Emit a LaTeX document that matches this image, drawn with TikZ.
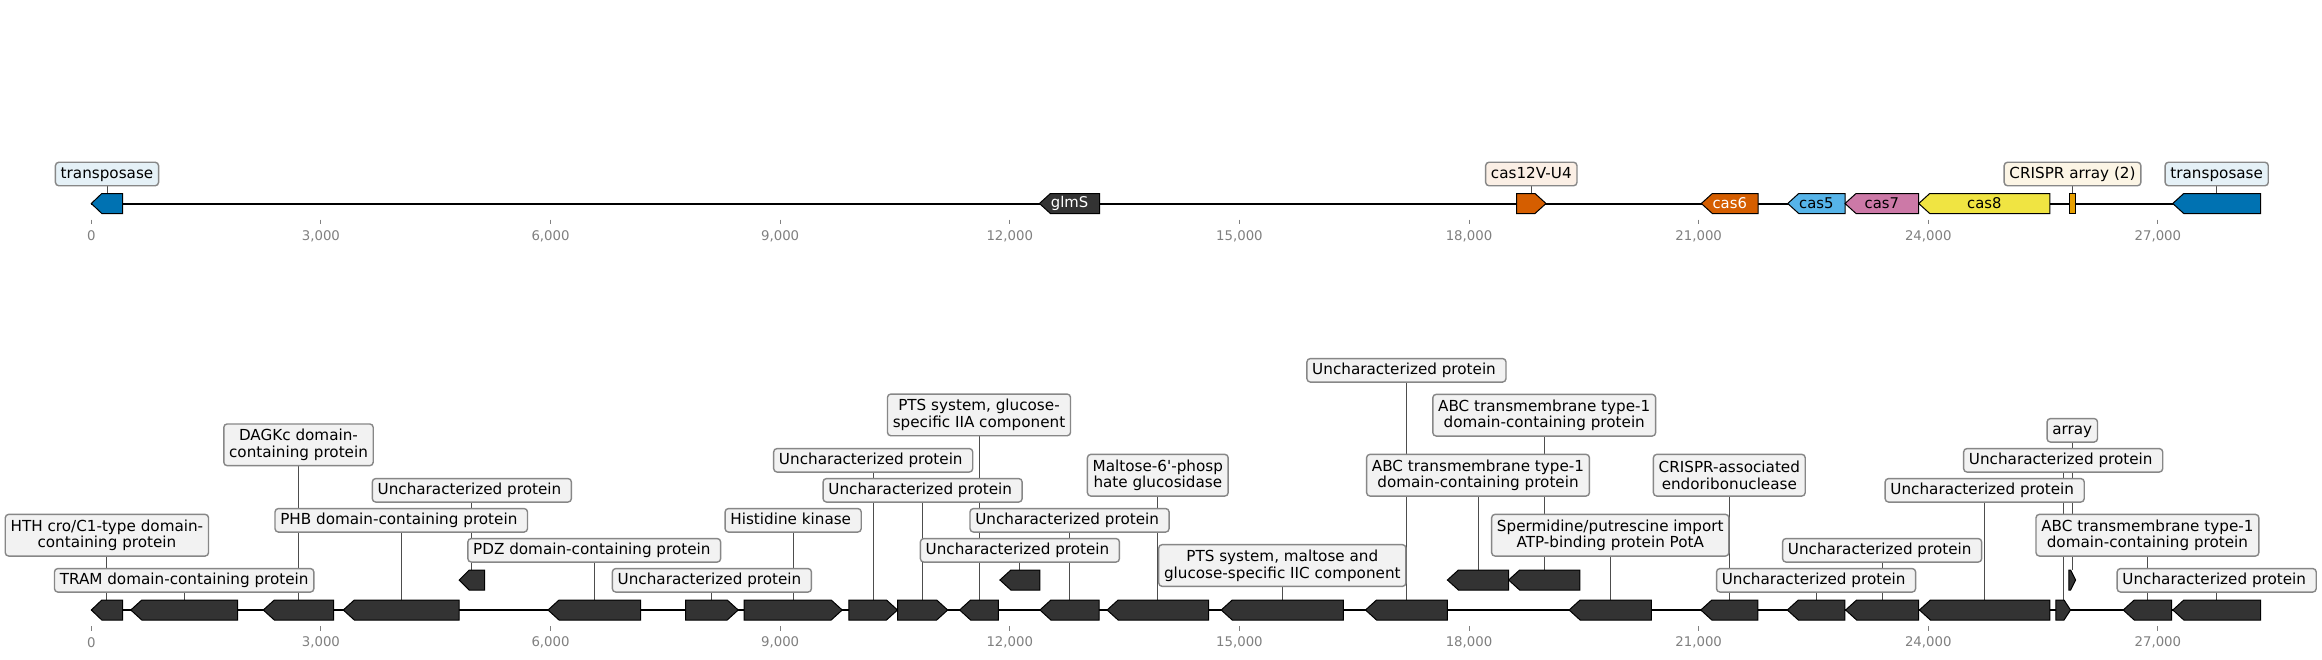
\documentclass[tikz,border=0pt]{standalone}
\usepackage{fontspec}
\newfontfamily\dv{DejaVu Sans}
\definecolor{tpblue}{HTML}{0072B2}
\definecolor{verm}{HTML}{D55E00}
\definecolor{sky}{HTML}{56B4E9}
\definecolor{rpurp}{HTML}{CC79A7}
\definecolor{yel}{HTML}{F0E442}
\definecolor{orng}{HTML}{E69F00}
\definecolor{dark}{HTML}{333333}
\definecolor{labfill}{HTML}{F2F2F2}
\definecolor{boxgray}{HTML}{878787}
\definecolor{conngray}{HTML}{4D4D4D}
\definecolor{tickgray}{HTML}{808080}
\newcommand\lfont{\dv\fontsize{7.6pt}{8.35pt}\selectfont}
\newcommand\tsp{\kern0.318em}
\pgfdeclarelayer{back}
\pgfsetlayers{back,main}
% reverse gene: name, x1 (tip), x2, yc, head, fill
\newcommand\grev[6]{%
  \draw[gene,fill=#6] (#2,#4) -- (#2+#5,#4-10) -- (#3,#4-10) -- (#3,#4+10) -- (#2+#5,#4+10) -- cycle;
  \coordinate (#1) at ({(#2+#3)/2},#4-10);}
% forward gene: name, x1, x2 (tip), yc, head, fill
\newcommand\gfwd[6]{%
  \draw[gene,fill=#6] (#2,#4-10) -- (#3-#5,#4-10) -- (#3,#4) -- (#3-#5,#4+10) -- (#2,#4+10) -- cycle;
  \coordinate (#1) at ({(#2+#3)/2},#4-10);}
\begin{document}
\begin{tikzpicture}[x=0.5pt,y=-0.5pt,
  gene/.style={draw=black,line width=0.5pt,line join=miter},
  labbase/.style={draw=boxgray,line width=0.7pt,rounded corners=1.7pt,fill=labfill,
    inner xsep=2.65pt,inner ysep=0pt,font=\lfont,text=black,align=center},
  lab/.style={labbase,text height=5.8pt,text depth=1.8pt,minimum height=11.75pt},
  labtwo/.style={labbase,minimum height=20.85pt},
  conn/.style={draw=conngray,line width=0.5pt},
  gtext/.style={font=\dv\fontsize{7.4pt}{8pt}\selectfont,inner sep=0pt},
  ticklab/.style={font=\dv\fontsize{6.65pt}{8pt}\selectfont,text=tickgray,inner sep=0pt},
  tickmark/.style={draw=tickgray,line width=0.5pt},
  axisline/.style={draw=black,line width=1pt}]
\useasboundingbox (0,0) rectangle (2322,659);
\begin{pgfonlayer}{back}
\fill[white] (0,0) rectangle (2322,659);
\end{pgfonlayer}

% ---------------- top track ----------------
\coordinate (ts) at (91.3,203.5);
\coordinate (te) at (2260.6,203.5);
\begin{pgfonlayer}{back}
\draw[axisline] (ts) -- (te);
\end{pgfonlayer}
\grev{a1}{91.3}{122.7}{203.5}{10.5}{tpblue}
\grev{a2}{1039.4}{1099.6}{203.5}{11}{dark}
\gfwd{a3}{1516.6}{1546}{203.5}{11}{verm}
\grev{a4}{1701.3}{1758.2}{203.5}{11}{verm}
\grev{a5}{1787.7}{1845}{203.5}{11}{sky}
\grev{a6}{1845}{1918.7}{203.5}{11}{rpurp}
\grev{a7}{1918.7}{2049.8}{203.5}{11}{yel}
\draw[gene,fill=orng] (2069.3,193.5) rectangle (2075.7,213.5);
\coordinate (a8) at (2072.5,193.5);
\grev{a9}{2172.7}{2260.7}{203.5}{11}{tpblue}

\node[gtext,text=white] (ta2) at (1069.5,203.5) {glmS};
\node[gtext,text=white] (ta4) at (1729.75,203.5) {cas6};
\node[gtext] (ta5) at (1816.35,203.5) {cas5};
\node[gtext] (ta6) at (1881.85,203.5) {cas7};
\node[gtext] (ta7) at (1984.25,203.5) {cas8};

\node[lab,fill=tpblue!10!white] (T1) at (a1 |- 0,174) {transposase};
\node[lab,fill=verm!10!white] (T2) at (a3 |- 0,174) {cas12V-U4};
\node[lab,fill=orng!10!white] (T3) at (a8 |- 0,174) {CRISPR array (2)};
\node[lab,fill=tpblue!10!white] (T4) at (a9 |- 0,174) {transposase};
\begin{pgfonlayer}{back}
\draw[conn] (T1.south) -- (a1);
\draw[conn] (T2.south) -- (a3);
\draw[conn] (T3.south) -- (a8);
\draw[conn] (T4.south) -- (a9);
\end{pgfonlayer}

% ---------------- lower track ----------------
\coordinate (bs) at (91.3,610);
\coordinate (be) at (2260.6,610);
\begin{pgfonlayer}{back}
\draw[axisline] (bs) -- (be);
\end{pgfonlayer}
\grev{g1}{91.3}{122.5}{610}{10.5}{dark}
\grev{g2}{130.8}{237.5}{610}{11}{dark}
\grev{g3}{263.3}{333.7}{610}{11}{dark}
\grev{g4}{343.3}{459.2}{610}{11}{dark}
\grev{r1}{459.2}{484.5}{580}{10}{dark}
\grev{g5}{548}{640.5}{610}{11}{dark}
\gfwd{g6}{685.6}{738.2}{610}{11}{dark}
\gfwd{g7}{744.1}{842.2}{610}{11}{dark}
\gfwd{g8}{848.9}{897.5}{610}{11}{dark}
\gfwd{g9}{897.5}{947.7}{610}{11}{dark}
\grev{g10}{959.6}{998.4}{610}{11}{dark}
\grev{r2}{999.9}{1039.9}{580}{11}{dark}
\grev{g11}{1039.9}{1099.2}{610}{11}{dark}
\grev{g12}{1107.1}{1208.5}{610}{11}{dark}
\grev{g13}{1221.2}{1343.4}{610}{11}{dark}
\grev{g14}{1365.5}{1447.4}{610}{11}{dark}
\grev{r3}{1447.4}{1508.6}{580}{11}{dark}
\grev{r4}{1508.6}{1579.8}{580}{11}{dark}
\grev{g15}{1569.1}{1651.4}{610}{11}{dark}
\grev{g16}{1700.8}{1757.8}{610}{11}{dark}
\grev{g17}{1787.3}{1844.8}{610}{11}{dark}
\grev{g18}{1845.6}{1918.6}{610}{11}{dark}
\grev{g19}{1919.4}{2049.9}{610}{11}{dark}
\gfwd{g20}{2055.8}{2070.5}{610}{6.5}{dark}
\gfwd{r5}{2068.9}{2075.6}{580}{5}{dark}
\grev{g21}{2123.2}{2171.6}{610}{11}{dark}
\grev{g22}{2172.8}{2260.5}{610}{11}{dark}

\node[labtwo] (L1) at (g1 |- 0,535.2) {HTH cro/C1-type domain-\\containing protein};
\node[lab] (L2) at (g2 |- 0,580.3) {TRAM domain-containing protein};
\node[labtwo] (L3) at (g3 |- 0,444.8) {DAGKc domain-\\containing protein};
\node[lab] (L4) at (g4 |- 0,520.3) {PHB domain-containing protein\tsp};
\node[lab] (L5) at (r1 |- 0,490.3) {Uncharacterized protein\tsp};
\node[lab] (L6) at (g5 |- 0,550.3) {PDZ domain-containing protein\tsp};
\node[lab] (L7) at (g6 |- 0,580.3) {Uncharacterized protein\tsp};
\node[lab] (L8) at (g7 |- 0,520.3) {Histidine kinase\tsp};
\node[lab] (L9) at (g8 |- 0,460.3) {Uncharacterized protein\tsp};
\node[lab] (L10) at (g9 |- 0,490.3) {Uncharacterized protein\tsp};
\node[labtwo] (L11) at (g10 |- 0,414.9) {PTS system, glucose-\\specific IIA component};
\node[lab] (L12) at (r2 |- 0,550.3) {Uncharacterized protein\tsp};
\node[lab] (L13) at (g11 |- 0,520.3) {Uncharacterized protein\tsp};
\node[labtwo] (L14) at (g12 |- 0,475.2) {Maltose-6'-phosp\\hate glucosidase};
\node[labtwo] (L15) at (g13 |- 0,565.5) {PTS system, maltose and\\glucose-specific IIC component};
\node[lab] (L16) at (g14 |- 0,370.3) {Uncharacterized protein\tsp};
\node[labtwo] (L17) at (r3 |- 0,475.2) {ABC transmembrane type-1\\domain-containing protein};
\node[labtwo] (L18) at (r4 |- 0,415.2) {ABC transmembrane type-1\\domain-containing protein};
\node[labtwo] (L19) at (g15 |- 0,535.2) {Spermidine/putrescine import\\ATP-binding protein PotA};
\node[labtwo] (L20) at (g16 |- 0,475.2) {CRISPR-associated\\endoribonuclease};
\node[lab] (L21) at (g17 |- 0,580.3) {Uncharacterized protein\tsp};
\node[lab] (L22) at (g18 |- 0,550.3) {Uncharacterized protein\tsp};
\node[lab] (L23) at (g19 |- 0,490.3) {Uncharacterized protein\tsp};
\node[lab] (L24) at (g20 |- 0,460.3) {Uncharacterized protein\tsp};
\node[lab] (L25) at (r5 |- 0,430.3) {array};
\node[labtwo] (L26) at (g21 |- 0,535.2) {ABC transmembrane type-1\\domain-containing protein};
\node[lab] (L27) at (g22 |- 0,580.3) {Uncharacterized protein\tsp};

\begin{pgfonlayer}{back}
\foreach \l/\g in {L1/g1,L2/g2,L3/g3,L4/g4,L5/r1,L6/g5,L7/g6,L8/g7,L9/g8,L10/g9,
  L11/g10,L12/r2,L13/g11,L14/g12,L15/g13,L16/g14,L17/r3,L18/r4,L19/g15,L20/g16,
  L21/g17,L22/g18,L23/g19,L24/g20,L25/r5,L26/g21,L27/g22}
  \draw[conn] (\l.south) -- (\g);
\end{pgfonlayer}

% ---------------- ticks ----------------
\foreach \kb/\tt [count=\i] in {0/0,3/{3,000},6/{6,000},9/{9,000},12/{12,000},
  15/{15,000},18/{18,000},21/{21,000},24/{24,000},27/{27,000}}{
  \pgfmathsetmacro\xx{91.3+76.54*\kb}
  \coordinate (tu\i) at (\xx,219.5);
  \coordinate (tv\i) at (\xx,224.2);
  \draw[tickmark] (tu\i) -- (tv\i);
  \node[ticklab] (tl\i) at (\xx,236) {\tt};
  \coordinate (bu\i) at (\xx,626);
  \coordinate (bv\i) at (\xx,630.7);
  \draw[tickmark] (bu\i) -- (bv\i);
  \node[ticklab] (bl\i) at (\xx,642.5) {\tt};
}
\end{tikzpicture}
\end{document}
